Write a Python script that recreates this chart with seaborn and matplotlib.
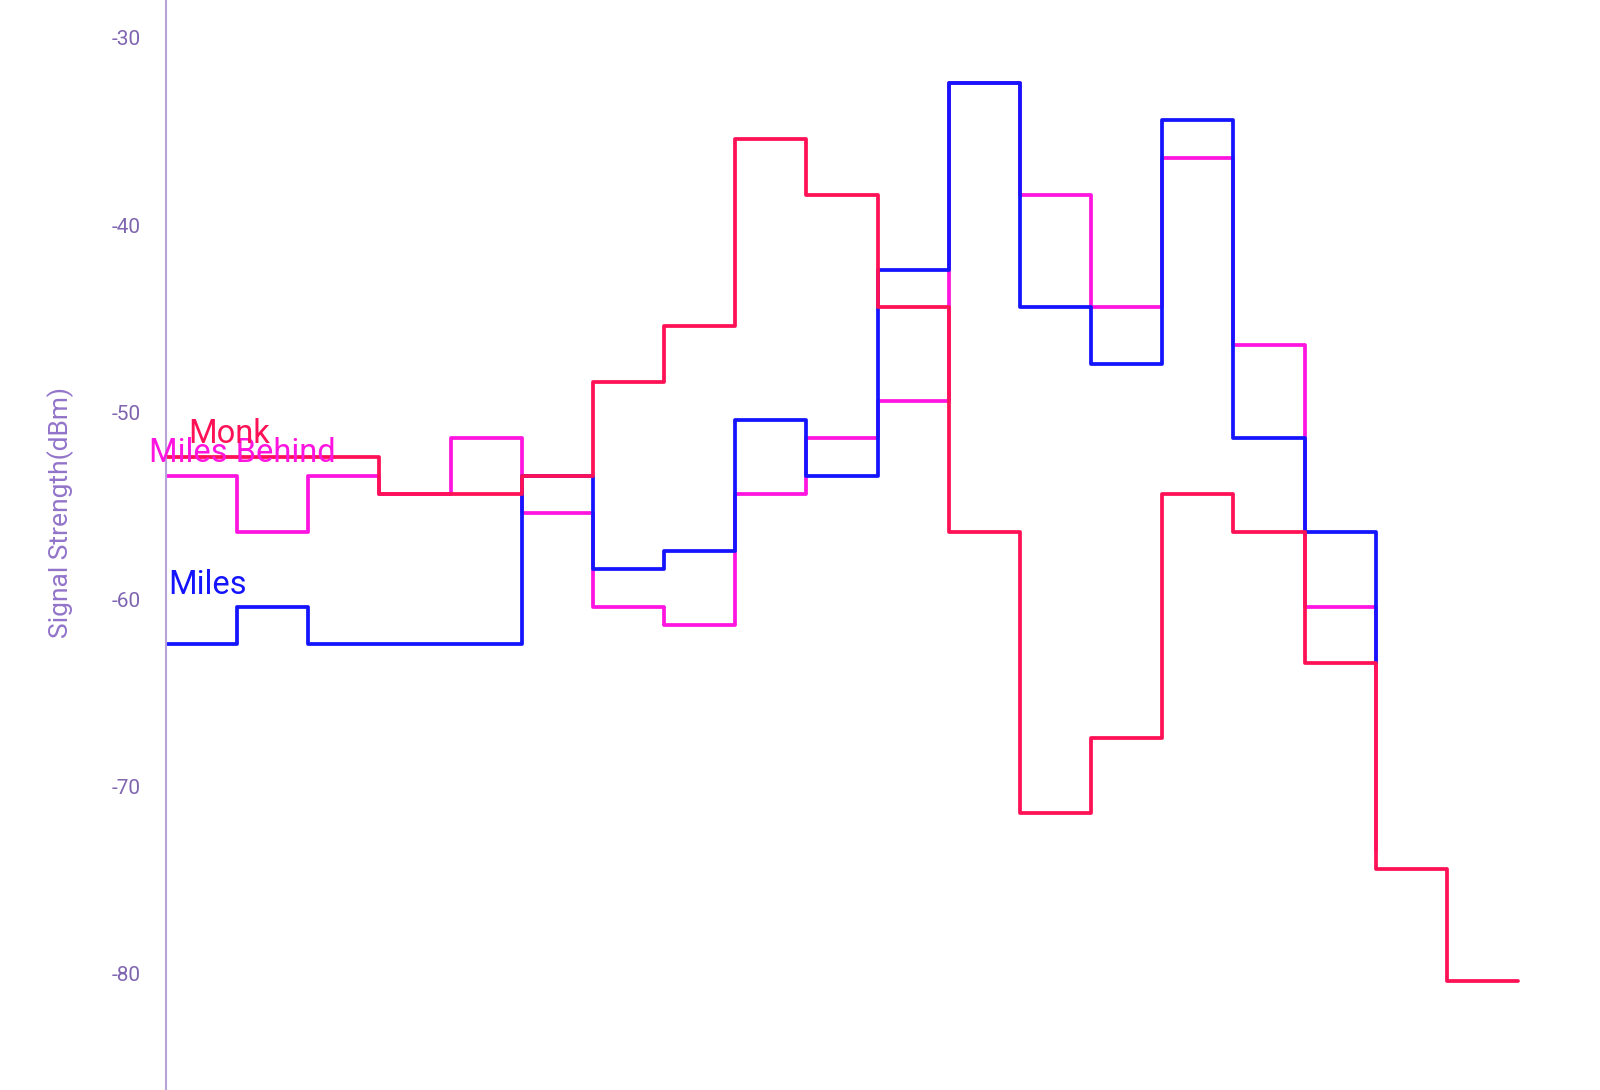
import matplotlib
matplotlib.use("Agg")
import matplotlib.pyplot as plt
import numpy as np
import pandas as pd
import seaborn as sns

# ---- data ----
series_names = ["Monk", "Miles Behind", "Miles"]
monk = [-52.4, -52.4, -52.4, -54.4, -54.4, -53.4, -48.4, -45.4, -35.4, -38.4,
        -44.4, -56.4, -71.4, -67.4, -54.4, -56.4, -63.4, -74.4, -80.4, -80.4]
miles_behind = [-53.4, -56.4, -53.4, -54.4, -51.4, -55.4, -60.4, -61.4, -54.4, -51.4,
                -49.4, -32.4, -38.4, -44.4, -36.4, -46.4, -60.4, -73.4]
miles = [-62.4, -60.4, -62.4, -62.4, -62.4, -53.4, -58.4, -57.4, -50.4, -53.4,
         -42.4, -32.4, -44.4, -47.4, -34.4, -51.4, -56.4, -63.4]
y_ticks = [-30, -40, -50, -60, -70, -80]
y_label = "Signal Strength(dBm)"

colors = {"Monk": "#ff1156", "Miles Behind": "#ff14e0", "Miles": "#1414ff"}
values = {"Monk": monk, "Miles Behind": miles_behind, "Miles": miles}

frames = []
for name in series_names:
    v = values[name]
    frames.append(pd.DataFrame({"series": name, "sample": np.arange(len(v)), "dbm": v}))
df = pd.concat(frames, ignore_index=True)

sns.set_style("white")
plt.rcParams["font.family"] = ["Roboto", "DejaVu Sans"]

W, H, DPI = 1600, 1090, 100
fig = plt.figure(figsize=(W / DPI, H / DPI), dpi=DPI)
ax_left_px, ax_right_px = 166, 1568
ax = fig.add_axes([ax_left_px / W, 0, (ax_right_px - ax_left_px) / W, 1])

# draw order: Miles Behind underneath, then Miles, then Monk on top
for name in ["Miles Behind", "Miles", "Monk"]:
    sub = df[df["series"] == name]
    sns.lineplot(data=sub, x="sample", y="dbm", ax=ax, color=colors[name],
                 drawstyle="steps-post", estimator=None, legend=False,
                 linewidth=2.7)

step_px = 71.16
ax.set_xlim(0, (ax_right_px - ax_left_px) / step_px)
ax.set_ylim(-86.23, -27.97)

ax.set_yticks(y_ticks)
ax.set_yticklabels([str(t) for t in y_ticks])
ax.tick_params(axis="y", length=0, pad=18, labelsize=15, labelcolor="#7f64b0")
ax.set_xticks([])
ax.set_xlabel("")

for s in ["top", "right", "bottom"]:
    ax.spines[s].set_visible(False)
ax.spines["left"].set_color("#b7a3da")
ax.spines["left"].set_linewidth(1.5)

ax.set_ylabel(y_label, fontsize=19, color="#9274c9", va="center", rotation=90)
ax.yaxis.set_label_coords((61 - ax_left_px) / (ax_right_px - ax_left_px), (H - 513) / H)

# series labels near the start of each line
label_offsets = {"Monk": (15.8, 10.1), "Miles Behind": (-12.2, 9.9), "Miles": (1.4, 36.0)}
for name in ["Miles", "Miles Behind", "Monk"]:
    dx, dy = label_offsets[name]
    ax.annotate(name, xy=(0, values[name][0]), xytext=(dx, dy),
                textcoords="offset points", ha="left", va="baseline",
                fontsize=23.5, color=colors[name], annotation_clip=False)

fig.savefig("out.png", dpi=DPI)
